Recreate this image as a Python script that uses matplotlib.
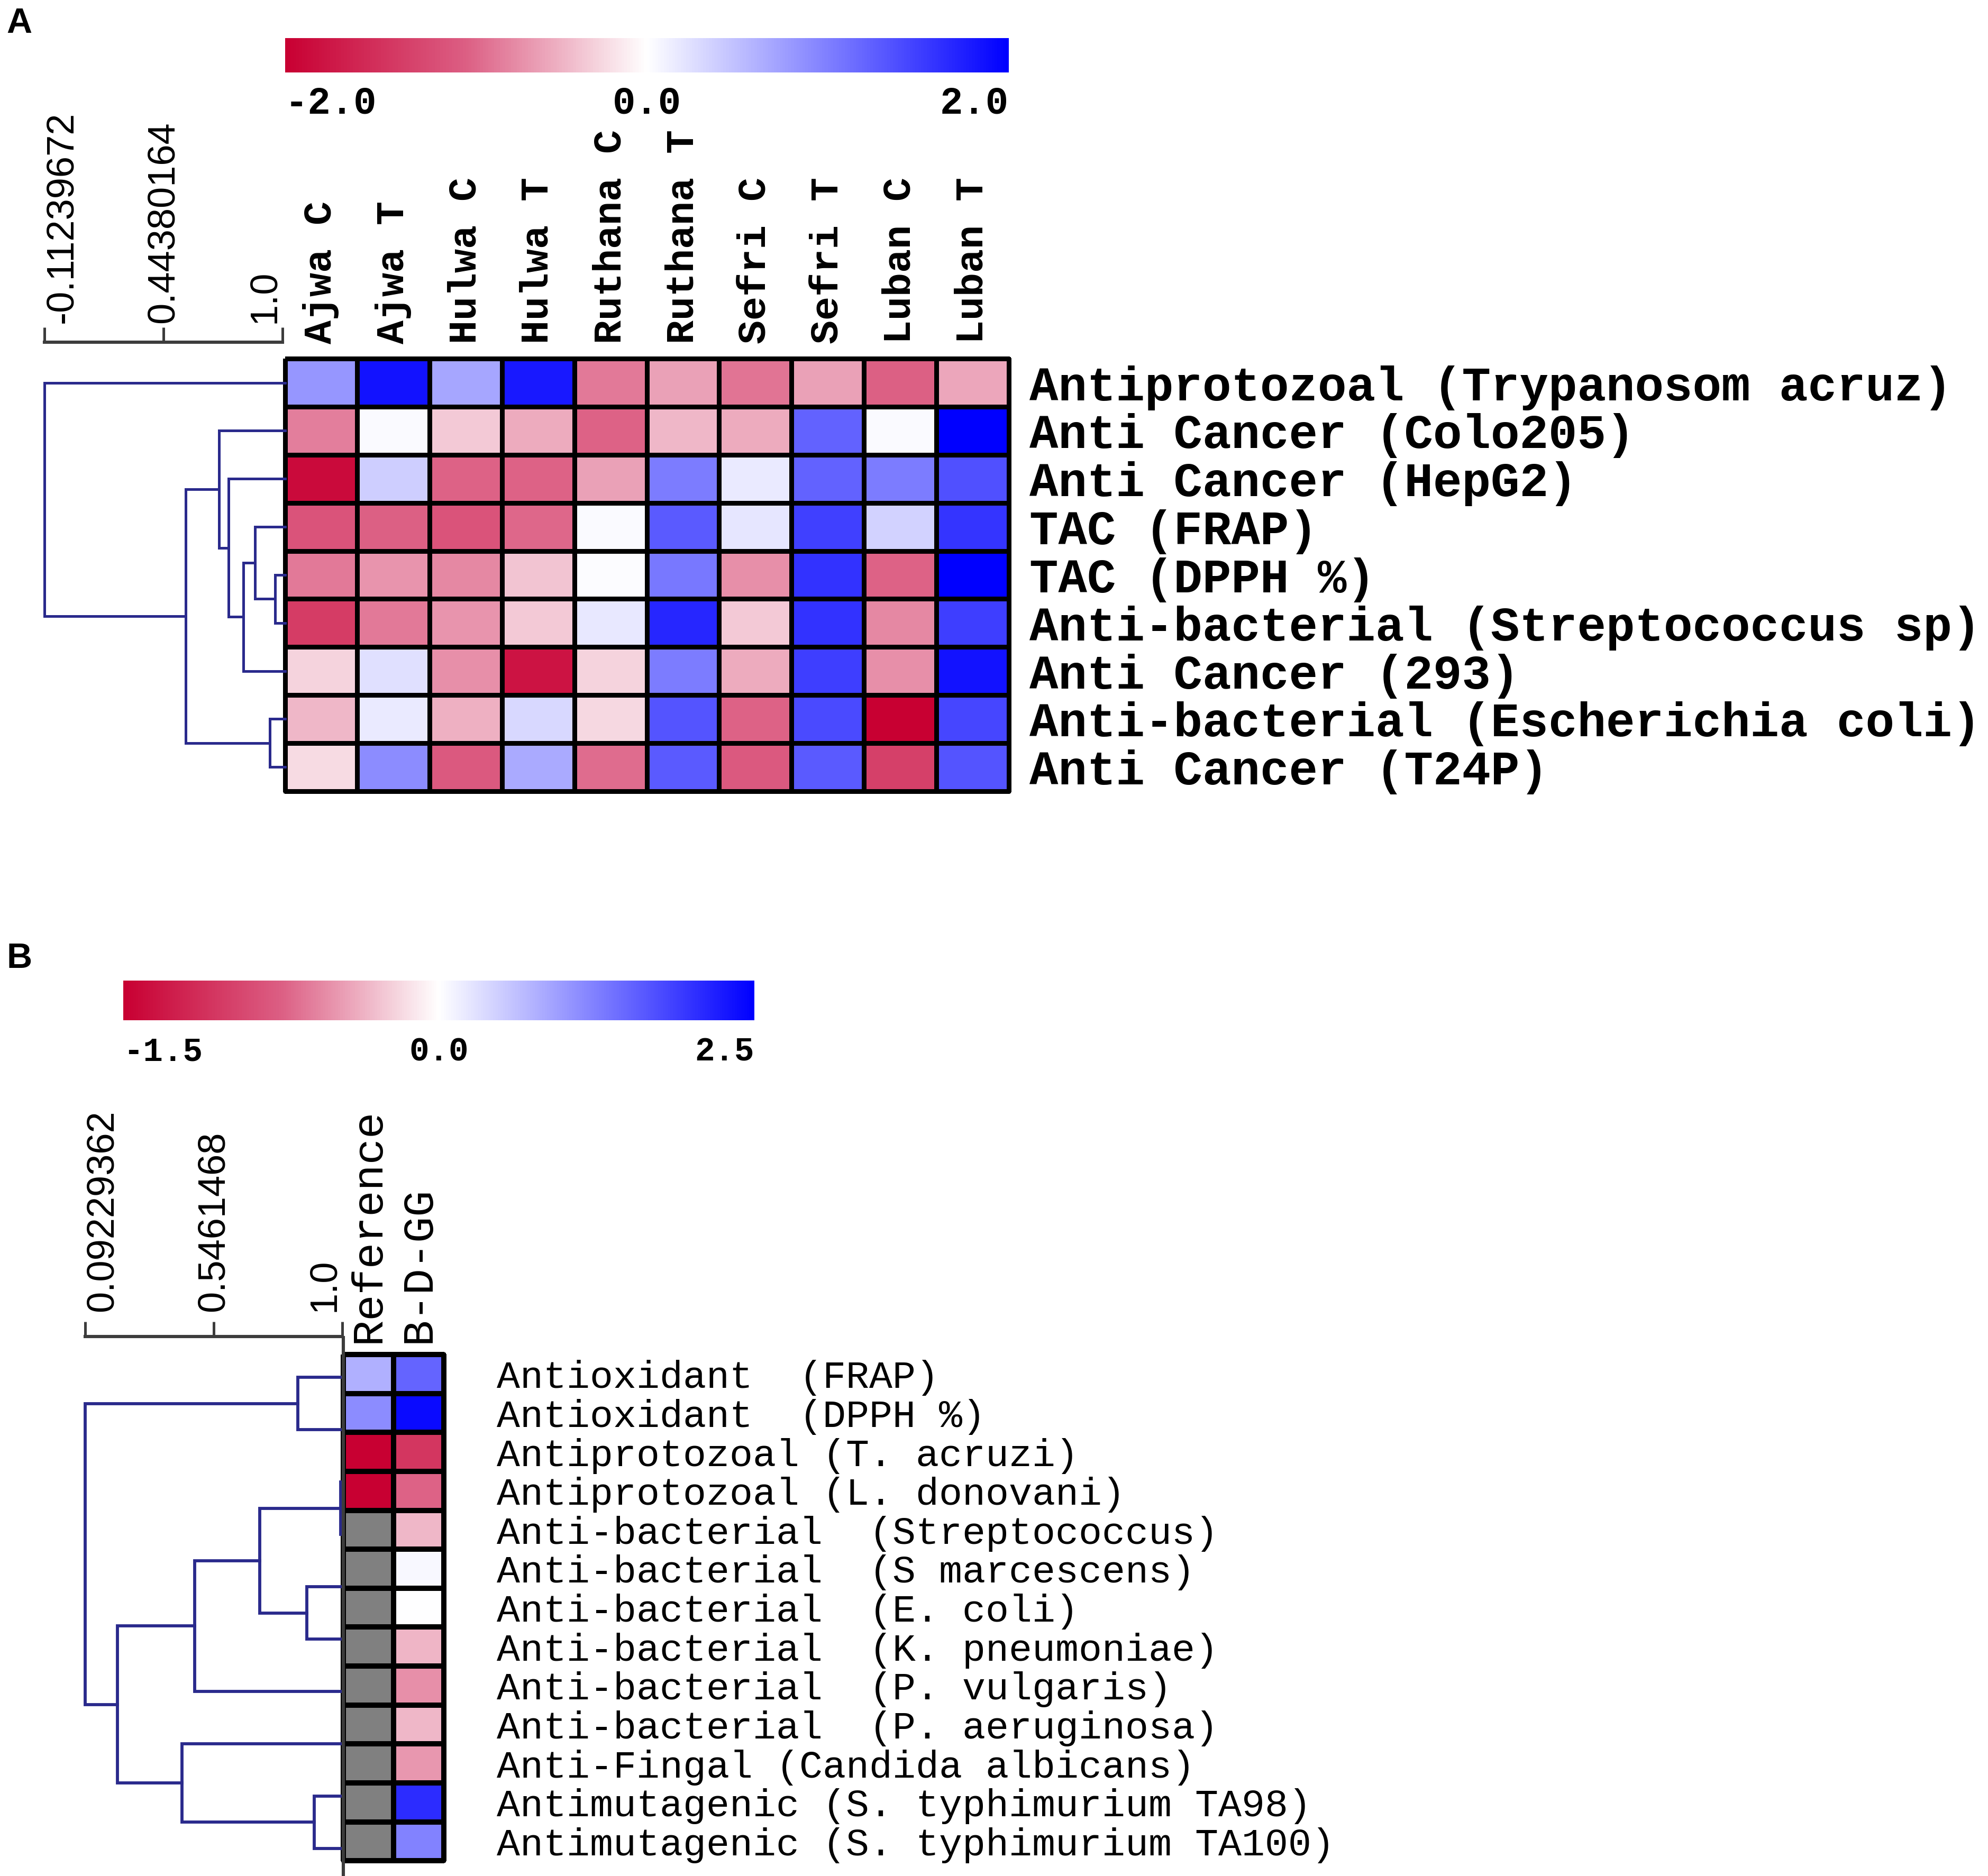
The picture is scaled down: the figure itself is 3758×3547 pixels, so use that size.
import numpy as np
import matplotlib
matplotlib.use('Agg')
import matplotlib.pyplot as plt
from matplotlib.colors import LinearSegmentedColormap, TwoSlopeNorm
from matplotlib.cm import ScalarMappable

# ---- panel A data ----
cols_a = ["Ajwa C", "Ajwa T", "Hulwa C", "Hulwa T", "Ruthana C", "Ruthana T",
          "Sefri C", "Sefri T", "Luban C", "Luban T"]
rows_a = ["Antiprotozoal (Trypanosom acruz)", "Anti Cancer (Colo205)",
          "Anti Cancer (HepG2)", "TAC (FRAP)", "TAC (DPPH %)",
          "Anti-bacterial (Streptococcus sp)", "Anti Cancer (293)",
          "Anti-bacterial (Escherichia coli)", "Anti Cancer (T24P)"]
vals_a = [
    [0.82, 1.85, 0.70, 1.80, -0.84, -0.59, -0.87, -0.59, -1.00, -0.56],
    [-0.81, 0.04, -0.34, -0.53, -0.97, -0.44, -0.53, 1.22, 0.04, 2.00],
    [-1.89, 0.39, -0.97, -0.97, -0.59, 1.02, 0.16, 1.22, 1.02, 1.37],
    [-1.11, -1.00, -1.11, -0.94, 0.04, 1.29, 0.20, 1.49, 0.35, 1.59],
    [-0.84, -0.66, -0.75, -0.37, 0.03, 1.06, -0.69, 1.60, -0.97, 2.00],
    [-1.37, -0.84, -0.66, -0.34, 0.18, 1.69, -0.34, 1.60, -0.75, 1.50],
    [-0.28, 0.24, -0.69, -1.79, -0.28, 1.02, -0.53, 1.50, -0.69, 1.85],
    [-0.44, 0.16, -0.50, 0.31, -0.25, 1.33, -0.97, 1.42, -2.00, 1.45],
    [-0.22, 0.90, -1.05, 0.67, -0.91, 1.29, -1.05, 1.29, -1.32, 1.33],
]
# row tree: (child, child, similarity); leaves 0..8, new nodes from 9
tree_a = [(4, 5, 0.954), (3, 9, 0.862), (10, 6, 0.808), (2, 11, 0.740),
          (1, 12, 0.694), (7, 8, 0.930), (13, 14, 0.542), (0, 15, -0.11239672)]
scale_a = [-0.11239672, 0.44380164, 1.0]
scale_a_txt = ["-0.11239672", "0.44380164", "1.0"]
cbar_a = [-2.0, 0.0, 2.0]

# ---- panel B data ----
cols_b = ["Reference", "B-D-GG"]
rows_b = ["Antioxidant  (FRAP)", "Antioxidant  (DPPH %)",
          "Antiprotozoal (T. acruzi)", "Antiprotozoal (L. donovani)",
          "Anti-bacterial  (Streptococcus)", "Anti-bacterial  (S marcescens)",
          "Anti-bacterial  (E. coli)", "Anti-bacterial  (K. pneumoniae)",
          "Anti-bacterial  (P. vulgaris)", "Anti-bacterial  (P. aeruginosa)",
          "Anti-Fingal (Candida albicans)",
          "Antimutagenic (S. typhimurium TA98)",
          "Antimutagenic (S. typhimurium TA100)"]
ref_b = [0.78, 1.13, -1.5, -1.5] + [np.nan] * 9
bdgg_b = [1.52, 2.40, -1.07, -0.73, -0.33, 0.07, 0.0, -0.35, -0.52, -0.33,
          -0.49, 2.06, 1.23]
# tree drawn with 10 leaves; new nodes from 10
tree_b = [(0, 1, 0.839), (2, 3, 0.991), (4, 5, 0.871), (11, 12, 0.705),
          (13, 6, 0.478), (8, 9, 0.898), (7, 15, 0.432), (14, 16, 0.205),
          (10, 17, 0.09229362)]
scale_b = [0.09229362, 0.5461468, 1.0]
scale_b_txt = ["0.09229362", "0.5461468", "1.0"]
cbar_b = [-1.5, 0.0, 2.5]

MONO = "Liberation Mono"
SANS = "Liberation Sans"
TREE = "#2a2a8c"
BAR = "#3c3c3c"

cmap = LinearSegmentedColormap.from_list(
    "rw_b", [(0.0, "#c80032"), (0.25, "#dc5f84"), (0.5, "#ffffff"), (1.0, "#0000ff")])
cmap.set_bad("#808080")
norm_a = TwoSlopeNorm(vmin=-2.0, vcenter=0.0, vmax=2.0)
norm_b = TwoSlopeNorm(vmin=-1.5, vcenter=0.0, vmax=2.5)

W, H = 1563.0, 1475.0


def box(x0, y0, x1, y1):
    return [x0 / W, 1 - y1 / H, (x1 - x0) / W, (y1 - y0) / H]


fig = plt.figure(figsize=(18.79, 17.735), dpi=200)


def draw_tree(ax, leaf_y, merges, lw):
    ys = list(leaf_y)
    xs = [1.0] * len(leaf_y)
    for a, b, h in merges:
        ax.plot([xs[a], h, h, xs[b]], [ys[a], ys[a], ys[b], ys[b]],
                color=TREE, lw=lw, solid_joinstyle="miter", clip_on=False)
        ys.append((ys[a] + ys[b]) / 2)
        xs.append(h)


def scale_axis(rect, vals, txt, fs, pad):
    ax = fig.add_axes(rect)
    ax.patch.set_visible(False)
    ax.set_xlim(vals[0], vals[-1])
    for s in ["left", "right", "bottom"]:
        ax.spines[s].set_visible(False)
    ax.spines["top"].set_color(BAR)
    ax.spines["top"].set_linewidth(2.2)
    ax.set_yticks([])
    ax.xaxis.tick_top()
    ax.set_xticks(vals)
    ax.set_xticklabels(txt, rotation=90, fontsize=fs, family=SANS)
    ax.tick_params(axis="x", direction="out", length=10, width=1.8,
                   color=BAR, pad=pad)
    labs = ax.get_xticklabels()
    labs[0].set_ha("left")
    labs[-1].set_ha("right")
    return ax


def colorbar(rect, norm, ticks, fs, pad):
    cax = fig.add_axes(rect)
    cb = fig.colorbar(ScalarMappable(norm=norm, cmap=cmap), cax=cax,
                      orientation="horizontal", ticks=ticks)
    cb.outline.set_visible(False)
    cb.set_ticklabels(["%.1f" % t for t in ticks])
    cax.tick_params(length=0, pad=pad, labelsize=fs)
    labs = cax.get_xticklabels()
    for t in labs:
        t.set_fontfamily(MONO)
        t.set_fontweight("bold")
    labs[0].set_ha("left")
    labs[-1].set_ha("right")


# ================= panel A =================
fig.text(5 / W, 1 - 6 / H, "A", fontsize=24, fontweight="bold", family=SANS,
         ha="left", va="top")
colorbar(box(224, 30, 793, 57), norm_a, cbar_a, 26, 9)

ax = fig.add_axes(box(224, 282, 793, 622))
mesh = ax.pcolormesh(np.array(vals_a), cmap=cmap, norm=norm_a,
                     edgecolors="black", linewidth=2.6)
mesh.set_clip_on(False)
ax.set_xlim(0, len(cols_a))
ax.set_ylim(len(rows_a), 0)
for s in ax.spines.values():
    s.set_visible(False)
ax.xaxis.tick_top()
ax.set_xticks(np.arange(len(cols_a)) + 0.5)
ax.set_xticklabels(cols_a, rotation=90, fontsize=27, family=MONO,
                   fontweight="bold")
ax.yaxis.tick_right()
ax.set_yticks(np.arange(len(rows_a)) + 0.5)
ax.set_yticklabels(rows_a, fontsize=32.7, family=MONO, fontweight="bold")
ax.tick_params(axis="x", length=0, pad=10)
ax.tick_params(axis="y", length=0, pad=14)

axd = fig.add_axes(box(35, 282, 224, 622))
axd.set_xlim(scale_a[0], 1.0)
axd.set_ylim(len(rows_a), 0)
axd.axis("off")
draw_tree(axd, np.arange(len(rows_a)) + 0.5, tree_a, 1.8)

scale_axis(box(35, 269, 222, 270), scale_a, scale_a_txt, 26, 3)

# ================= panel B =================
fig.text(5 / W, 1 - 741 / H, "B", fontsize=24, fontweight="bold", family=SANS,
         ha="left", va="top")
colorbar(box(97, 771, 593, 802), norm_b, cbar_b, 22.5, 11)

axb = fig.add_axes(box(270, 1065, 349, 1463))
data_b = np.ma.masked_invalid(np.array([ref_b, bdgg_b]).T)
mesh = axb.pcolormesh(data_b, cmap=cmap, norm=norm_b, edgecolors="black",
                      linewidth=3.0)
mesh.set_clip_on(False)
axb.set_xlim(0, len(cols_b))
axb.set_ylim(len(rows_b), 0)
for s in axb.spines.values():
    s.set_visible(False)
axb.xaxis.tick_top()
axb.set_xticks(np.arange(len(cols_b)) + 0.5)
axb.set_xticklabels(cols_b, rotation=90, fontsize=29.5, family=MONO)
axb.yaxis.tick_right()
axb.set_yticks(np.arange(len(rows_b)) + 0.5)
axb.set_yticklabels(rows_b, fontsize=26.4, family=MONO)
axb.tick_params(axis="x", length=0, pad=8)
axb.tick_params(axis="y", length=0, pad=36)

axdb = fig.add_axes(box(67, 1065, 270, 1463))
axdb.set_xlim(scale_b[0], 1.0)
axdb.set_ylim(len(rows_b), 0)
axdb.axis("off")
leaves_b = np.linspace(0.59, 12.68, 10)
draw_tree(axdb, leaves_b, tree_b, 2.1)
axdb.axvline(1.0, ymin=-0.03, ymax=1.033, color=BAR, lw=2.2, clip_on=False)

scale_axis(box(67, 1051, 269, 1052), scale_b, scale_b_txt, 26, 7)

fig.savefig("out.png", dpi=200)
